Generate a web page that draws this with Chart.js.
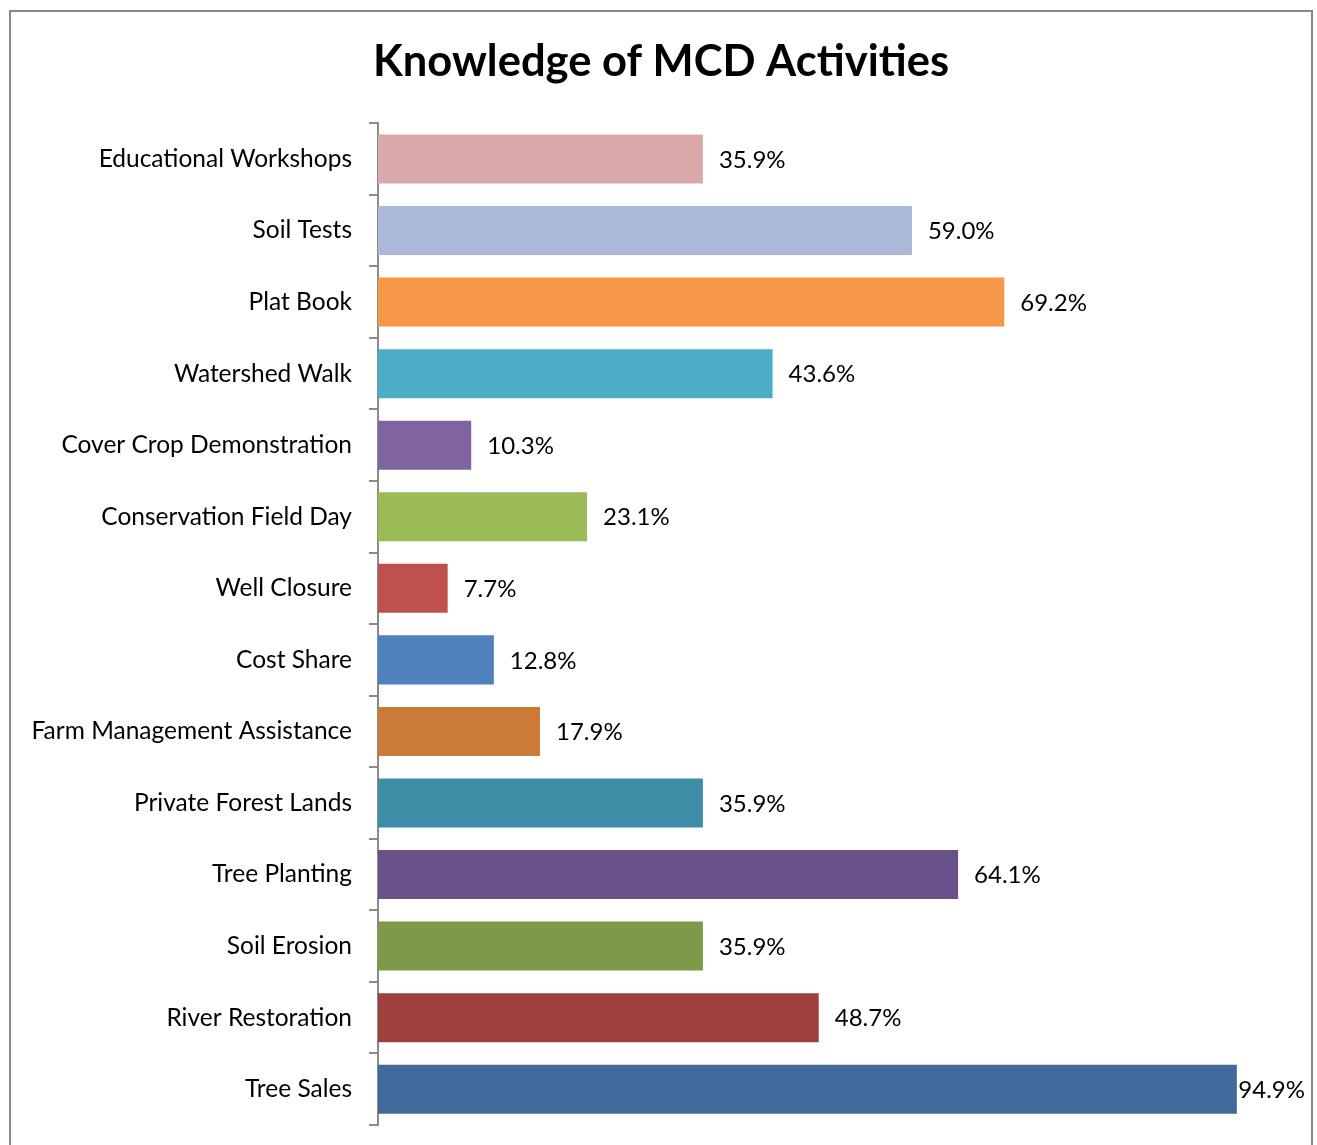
<!DOCTYPE html>
<html>
<head>
<meta charset="utf-8">
<script src="https://cdn.jsdelivr.net/npm/chart.js@4/dist/chart.umd.min.js"></script>
<style>
html,body{margin:0;padding:0;background:#fff;}
#wrap{width:1317px;height:1145px;position:relative;}
</style>
</head>
<body>
<div id="wrap"><canvas id="c" width="1317" height="1145"></canvas></div>
<script>
const chartTitle = "Knowledge of MCD Activities";
const categories = [
  "Educational Workshops","Soil Tests","Plat Book","Watershed Walk",
  "Cover Crop Demonstration","Conservation Field Day","Well Closure","Cost Share",
  "Farm Management Assistance","Private Forest Lands","Tree Planting","Soil Erosion",
  "River Restoration","Tree Sales"
];
const values = [35.9, 59.0, 69.2, 43.6, 10.3, 23.1, 7.7, 12.8, 17.9, 35.9, 64.1, 35.9, 48.7, 94.9];
const barColors = [
  "#D9A9AA","#AAB9D7","#F79646","#4BACC6","#8064A2","#9BBB59","#C0504D",
  "#4F81BD","#CC7A38","#3C8DA5","#6A5189","#7E9A48","#9E403E","#426A9B"
];
const FONT = "Lato, 'Open Sans', sans-serif";

const borderPlugin = {
  id: 'outerBorder',
  beforeDraw(chart) {
    const ctx = chart.ctx;
    ctx.save();
    ctx.fillStyle = '#fff';
    ctx.fillRect(0, 0, chart.width, chart.height);
    ctx.strokeStyle = '#888';
    ctx.lineWidth = 2;
    ctx.beginPath();
    ctx.moveTo(10, chart.height + 5);
    ctx.lineTo(10, 11);
    ctx.lineTo(1312, 11);
    ctx.lineTo(1312, chart.height + 5);
    ctx.stroke();
    ctx.restore();
  }
};

// center the title over the framed area rather than the whole canvas
const titleShift = {
  id: 'titleShift',
  afterLayout(chart) {
    const t = chart.titleBlock;
    if (t) { t.left = 39; t.right = 1283; t.width = t.right - t.left; }
  }
};

const labelPlugin = {
  id: 'valueLabels',
  afterDatasetsDraw(chart) {
    const ctx = chart.ctx;
    const meta = chart.getDatasetMeta(0);
    ctx.save();
    ctx.font = "24px " + FONT;
    ctx.fillStyle = '#000';
    ctx.textAlign = 'left';
    ctx.textBaseline = 'middle';
    const limit = 1305;
    meta.data.forEach((bar, i) => {
      const txt = values[i].toFixed(1) + '%';
      const w = ctx.measureText(txt).width;
      let x = bar.x + 16;
      if (x + w > limit) x = limit - w;
      ctx.fillText(txt, x, bar.y + 1);
    });
    ctx.restore();
  }
};

new Chart(document.getElementById('c'), {
  type: 'bar',
  data: {
    labels: categories,
    datasets: [{
      data: values,
      backgroundColor: barColors,
      borderWidth: 0,
      categoryPercentage: 1,
      barPercentage: 0.685
    }]
  },
  options: {
    indexAxis: 'y',
    responsive: false,
    animation: false,
    layout: { padding: { left: 0, right: 34, top: 10, bottom: 20 } },
    plugins: {
      legend: { display: false },
      tooltip: { enabled: false },
      title: {
        display: true,
        text: chartTitle,
        color: '#000',
        font: { family: FONT, size: 43.5, weight: 'bold' },
        padding: { top: 26, bottom: 35 }
      }
    },
    scales: {
      x: { display: false, min: 0, max: 100 },
      y: {
        afterFit(scale) { scale.width = 378; },
        border: { display: true, color: '#8a8a8a', width: 2 },
        grid: { display: true, drawOnChartArea: false, drawTicks: true, tickLength: 9, color: '#8a8a8a', lineWidth: 2, offset: true },
        ticks: { color: '#000', padding: 17, autoSkip: false, font: { family: FONT, size: 24.5, lineHeight: 0.1 } }
      }
    }
  },
  plugins: [borderPlugin, titleShift, labelPlugin]
});
</script>
</body>
</html>
